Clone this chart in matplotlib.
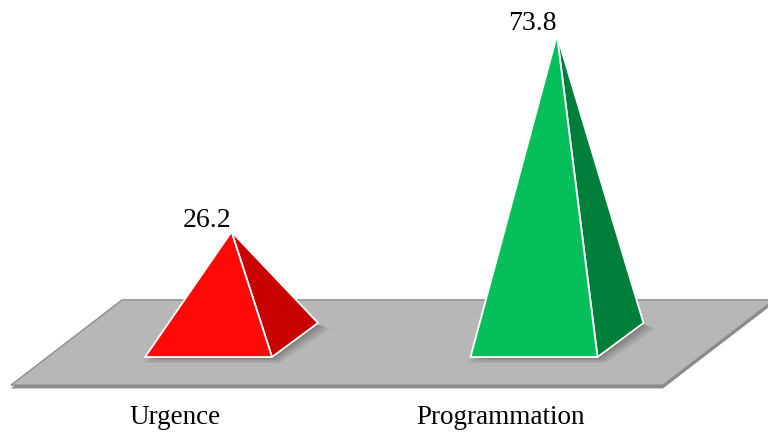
import matplotlib
matplotlib.use("Agg")
import matplotlib.pyplot as plt
from matplotlib.patches import Polygon

categories = ["Urgence", "Programmation"]
values = [26.2, 73.8]
front_colors = ["#FF0808", "#05BF5A"]
side_colors = ["#C80000", "#007F3A"]

fig = plt.figure(figsize=(7.68, 4.34), dpi=100)
ax = fig.add_axes([0, 0, 1, 1])
ax.set_xlim(-0.6406, 1.7189)
ax.set_ylim(-22.76, 82.32)
ax.axis("off")

# floor (slab side, then top)
floor = [(-0.6068, -10.92), (1.3963, -10.92), (1.7373, 9.71), (-0.2657, 9.71)]
side = [(x, y - 0.8) for x, y in floor]
ax.add_patch(Polygon(side, closed=True, facecolor="#8a8a8a", edgecolor="none", zorder=1))
ax.add_patch(Polygon(floor, closed=True, facecolor="#b7b7b7", edgecolor="#8e8e8e",
                     linewidth=1.0, zorder=2))

hw = 0.1951      # half width of base
ddx = 0.1413     # depth offset x
ddy = 8.25       # depth offset y
fy = -ddy / 2    # front edge y

for i, (cat, v, fc, sc) in enumerate(zip(categories, values, front_colors, side_colors)):
    fl = (i - hw, fy)
    fr = (i + hw, fy)
    br = (i + hw + ddx, fy + ddy)
    apex = (i + ddx / 2, v)
    # soft shadow
    for k, a in enumerate([0.10, 0.10, 0.12, 0.16]):
        off = (4 - k) * 0.006
        offy = (4 - k) * 0.35
        shp = [(fl[0] - off * 0.5, fl[1] - offy), (fr[0] + off, fr[1] - offy),
               (br[0] + off * 1.5, br[1] - offy), (br[0] - 0.05, br[1] + 0.5)]
        ax.add_patch(Polygon(shp, closed=True, facecolor="#303030", alpha=a,
                             edgecolor="none", zorder=3))
    ax.add_patch(Polygon([fr, br, apex], closed=True, facecolor=sc, edgecolor="white",
                         linewidth=1.3, joinstyle="round", zorder=4))
    ax.add_patch(Polygon([fl, fr, apex], closed=True, facecolor=fc, edgecolor="white",
                         linewidth=1.3, joinstyle="round", zorder=5))
    ax.text(apex[0], v + 1.2, f"{v}", ha="right", va="baseline",
            fontsize=20, family="Liberation Serif", color="black", zorder=6)
    ax.text(i - 0.104, -18.7, cat, ha="center", va="center",
            fontsize=19.5, family="Liberation Serif", color="black", zorder=6)

fig.savefig("out.png", dpi=100)
